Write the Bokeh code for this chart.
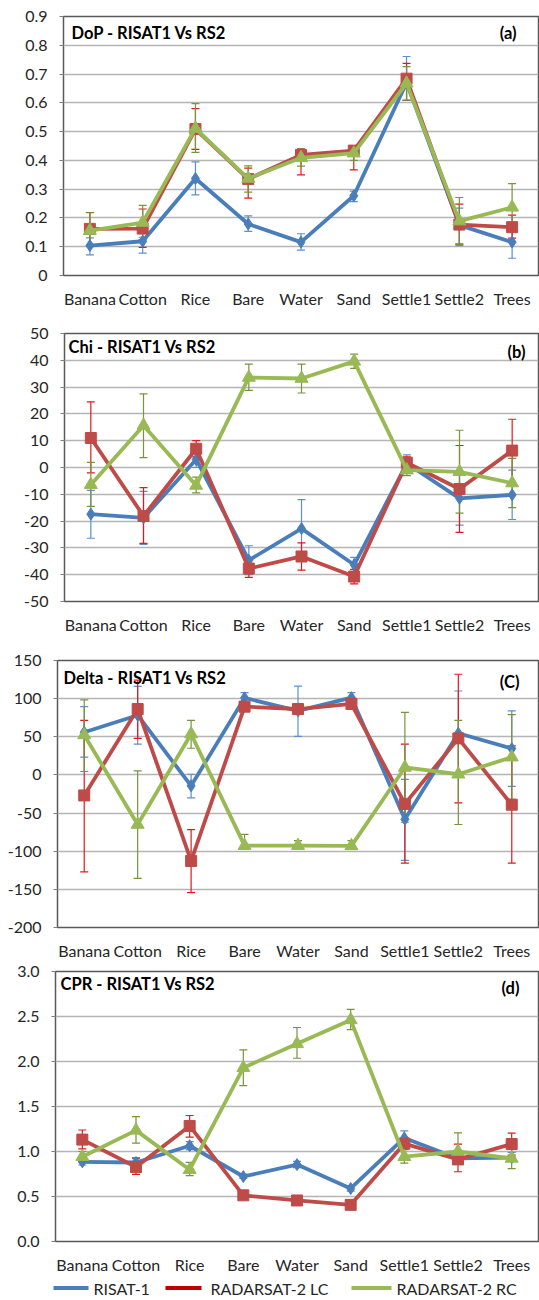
from bokeh.plotting import figure
from bokeh.models import (ColumnDataSource, Whisker, TeeHead, Label,
                          FactorRange, Range1d, FixedTicker, CustomJSTickFormatter)
from bokeh.core.properties import value
from bokeh.layouts import column
from bokeh.embed import file_html
from bokeh.resources import INLINE

categories = ["Banana", "Cotton", "Rice", "Bare", "Water", "Sand", "Settle1", "Settle2", "Trees"]
series_names = ["RISAT-1", "RADARSAT-2 LC", "RADARSAT-2 RC"]

# ---- (a) DoP ----
dop_risat    = [0.104, 0.119, 0.337, 0.179, 0.116, 0.277, 0.670, 0.175, 0.116]
dop_risat_lo = [0.072, 0.078, 0.280, 0.153, 0.088, 0.257, 0.609, 0.104, 0.060]
dop_risat_hi = [0.131, 0.133, 0.395, 0.207, 0.145, 0.293, 0.761, 0.234, 0.169]
dop_lc       = [0.162, 0.163, 0.509, 0.335, 0.419, 0.434, 0.684, 0.177, 0.168]
dop_lc_lo    = [0.105, 0.098, 0.438, 0.269, 0.350, 0.367, 0.609, 0.109, 0.130]
dop_lc_hi    = [0.219, 0.231, 0.580, 0.373, 0.440, 0.450, 0.737, 0.248, 0.210]
dop_rc       = [0.156, 0.184, 0.511, 0.337, 0.409, 0.425, 0.668, 0.189, 0.237]
dop_rc_lo    = [0.100, 0.125, 0.428, 0.290, 0.380, 0.400, 0.609, 0.109, 0.155]
dop_rc_hi    = [0.218, 0.244, 0.597, 0.381, 0.440, 0.445, 0.726, 0.271, 0.319]

# ---- (b) Chi ----
chi_risat    = [-17.4, -18.8, 3.0, -34.6, -22.8, -36.3, 1.5, -11.5, -10.2]
chi_risat_lo = [-26.4, -28.7, 0.0, -40.0, -33.6, -39.2, -1.5, -21.5, -19.4]
chi_risat_hi = [-8.5, -8.9, 6.0, -29.2, -12.0, -33.5, 4.7, -1.5, -1.0]
chi_lc       = [11.0, -18.1, 7.0, -37.7, -33.2, -40.7, 1.8, -8.0, 6.3]
chi_lc_lo    = [-2.0, -28.3, 4.0, -41.0, -38.3, -43.4, -0.5, -24.2, -5.7]
chi_lc_hi    = [24.5, -7.5, 10.0, -34.0, -28.1, -38.0, 4.0, 8.2, 18.0]
chi_rc       = [-6.4, 15.7, -6.7, 33.6, 33.2, 39.6, -1.0, -1.6, -5.8]
chi_rc_lo    = [-14.5, 3.7, -9.5, 28.8, 27.8, 37.0, -3.0, -17.0, -15.0]
chi_rc_hi    = [1.9, 27.5, -3.6, 38.6, 38.6, 42.3, 1.0, 13.9, 3.4]

# ---- (c) Delta ----
delta_risat    = [56.0, 78.3, -14.3, 101.0, 84.0, 101.3, -58.0, 54.6, 34.5]
delta_risat_lo = [23.3, 40.3, -30.0, 93.0, 50.6, 93.0, -112.0, 0.0, -15.0]
delta_risat_hi = [89.5, 116.0, 0.9, 108.0, 116.4, 108.0, -5.8, 110.0, 84.0]
delta_lc       = [-26.9, 86.4, -112.8, 89.5, 86.4, 93.0, -38.0, 47.9, -39.0]
delta_lc_lo    = [-127.0, 47.9, -154.4, 84.5, 81.4, 88.0, -115.5, -36.7, -115.5]
delta_lc_hi    = [71.6, 124.4, -71.6, 94.5, 91.4, 98.0, 40.3, 132.0, 38.0]
delta_rc       = [52.4, -65.0, 53.7, -92.7, -92.7, -93.0, 9.8, 0.9, 23.3]
delta_rc_lo    = [4.5, -135.6, 35.0, -97.0, -97.0, -97.0, -62.0, -65.0, -32.0]
delta_rc_hi    = [98.5, 5.4, 71.6, -78.0, -86.0, -86.0, 81.9, 71.6, 79.0]

# ---- (d) CPR ----
cpr_risat    = [0.885, 0.878, 1.064, 0.722, 0.855, 0.589, 1.151, 0.923, 0.932]
cpr_risat_lo = [0.850, 0.850, 1.020, 0.700, 0.820, 0.560, 1.080, 0.870, 0.890]
cpr_risat_hi = [0.920, 0.920, 1.110, 0.750, 0.890, 0.620, 1.230, 0.970, 0.990]
cpr_lc       = [1.132, 0.828, 1.284, 0.513, 0.456, 0.407, 1.087, 0.912, 1.083]
cpr_lc_lo    = [1.030, 0.745, 1.160, 0.490, 0.430, 0.380, 1.030, 0.775, 0.960]
cpr_lc_hi    = [1.239, 0.930, 1.400, 0.530, 0.480, 0.430, 1.140, 1.083, 1.204]
cpr_rc       = [0.942, 1.235, 0.798, 1.930, 2.196, 2.462, 0.942, 1.000, 0.923]
cpr_rc_lo    = [0.900, 1.094, 0.733, 1.733, 2.036, 2.355, 0.870, 0.940, 0.810]
cpr_rc_hi    = [1.000, 1.387, 0.880, 2.130, 2.378, 2.580, 1.020, 1.208, 1.030]

dop_ticks = [0, 0.1, 0.2, 0.3, 0.4, 0.5, 0.6, 0.7, 0.8, 0.9]
chi_ticks = [-50, -40, -30, -20, -10, 0, 10, 20, 30, 40, 50]
delta_ticks = [-200, -150, -100, -50, 0, 50, 100, 150]
cpr_ticks = [0.0, 0.5, 1.0, 1.5, 2.0, 2.5, 3.0]

LINE_COLORS = ["#4A7EBB", "#BE4B48", "#98B954"]
LEGEND_COLORS = ["#4A7EBB", "#C00000", "#98B954"]
ERR_COLORS = ["#5B8FD0", "#E0191C", "#77953A"]
MARKERS = ["diamond", "square", "triangle"]
MSIZES = [12, 11, 13]
FONT = "Lato"
TEXT = "#262626"
W = 539


def panel(title, tag, ymin, ymax, ticks, fmt_code, series, height, top, bottom, left,
          title_off, tag_off):
    frame_w = W - left - 1
    p = figure(x_range=FactorRange(factors=categories), y_range=Range1d(ymin, ymax),
               width=W, height=height, output_backend="svg", toolbar_location=None,
               min_border_left=left, min_border_right=1, min_border_top=top,
               min_border_bottom=bottom)
    p.background_fill_color = "white"
    p.border_fill_color = "white"
    p.outline_line_color = "#595959"
    p.outline_line_width = 1.5

    tk = FixedTicker(ticks=ticks)
    p.yaxis.ticker = tk
    p.ygrid.ticker = tk
    p.yaxis.formatter = CustomJSTickFormatter(code=fmt_code)
    p.yaxis.axis_line_color = None
    p.yaxis.major_tick_line_color = "#7F7F7F"
    p.yaxis.major_tick_out = 4
    p.yaxis.major_tick_in = 0
    p.yaxis.minor_tick_line_color = None
    p.yaxis.major_label_standoff = 12
    p.yaxis.major_label_text_font = FONT
    p.yaxis.major_label_text_font_size = "16px"
    p.yaxis.major_label_text_color = TEXT

    p.xaxis.axis_line_color = None
    p.xaxis.major_tick_line_color = None
    p.xaxis.major_tick_out = 0
    p.xaxis.major_label_standoff = 13
    p.xaxis.major_label_text_font = FONT
    p.xaxis.major_label_text_font_size = "16px"
    p.xaxis.major_label_text_color = TEXT

    p.xgrid.grid_line_color = None
    p.ygrid.grid_line_color = "#B5B5B5"
    p.ygrid.grid_line_width = 1.5

    for i, (vals, lo, hi) in enumerate(series):
        src = ColumnDataSource(dict(cat=categories, y=vals, lo=lo, hi=hi))
        p.line("cat", "y", source=src, line_color=LINE_COLORS[i], line_width=3.8)
        p.scatter("cat", "y", source=src, marker=MARKERS[i], size=MSIZES[i],
                  fill_color=LINE_COLORS[i], line_color=LINE_COLORS[i])
        wk = Whisker(base="cat", lower="lo", upper="hi", source=src,
                     line_color=ERR_COLORS[i], line_width=1.2,
                     upper_head=TeeHead(size=8, line_color=ERR_COLORS[i], line_width=1.2),
                     lower_head=TeeHead(size=8, line_color=ERR_COLORS[i], line_width=1.2))
        p.add_layout(wk)

    frame_h = height - top - bottom
    cat_w = frame_w / len(categories)
    span = ymax - ymin
    p.add_layout(Label(x=title_off[0] / cat_w, y=ymax - title_off[1] / frame_h * span,
                       text=title, text_font=FONT, text_font_size="16.5px",
                       text_font_style="bold", text_baseline="middle", text_color="black"))
    p.add_layout(Label(x=len(categories) - tag_off[0] / cat_w,
                       y=ymax - tag_off[1] / frame_h * span,
                       text=tag, text_font=FONT, text_font_size="16.5px",
                       text_font_style="bold", text_baseline="middle", text_align="right",
                       text_color="black"))
    return p


fmt1 = "return tick == 0 ? '0' : tick.toFixed(1);"
fmt0 = "return tick.toFixed(0);"
fmtd = "return tick.toFixed(1);"

pa = panel("DoP - RISAT1 Vs RS2", "(a)", 0, 0.9, dop_ticks, fmt1,
           [(dop_risat, dop_risat_lo, dop_risat_hi), (dop_lc, dop_lc_lo, dop_lc_hi),
            (dop_rc, dop_rc_lo, dop_rc_hi)],
           height=310, top=16, bottom=32, left=63, title_off=(8, 17), tag_off=(22, 17))
pb = panel("Chi - RISAT1 Vs RS2", "(b)", -50, 50, chi_ticks, fmt0,
           [(chi_risat, chi_risat_lo, chi_risat_hi), (chi_lc, chi_lc_lo, chi_lc_hi),
            (chi_rc, chi_rc_lo, chi_rc_hi)],
           height=326, top=23, bottom=32, left=64, title_off=(4, 14), tag_off=(13, 19))
pc = panel("Delta - RISAT1 Vs RS2", "(C)", -200, 150, delta_ticks, fmt0,
           [(delta_risat, delta_risat_lo, delta_risat_hi), (delta_lc, delta_lc_lo, delta_lc_hi),
            (delta_rc, delta_rc_lo, delta_rc_hi)],
           height=326, top=24, bottom=32, left=57, title_off=(6, 18), tag_off=(19, 22))
pd_ = panel("CPR - RISAT1 Vs RS2", "(d)", 0, 3.0, cpr_ticks, fmtd,
            [(cpr_risat, cpr_risat_lo, cpr_risat_hi), (cpr_lc, cpr_lc_lo, cpr_lc_hi),
             (cpr_rc, cpr_rc_lo, cpr_rc_hi)],
            height=314, top=9, bottom=32, left=55, title_off=(5, 13), tag_off=(19, 17))

# ---- legend strip (pixel coordinates) ----
LEG_H = 23
leg = figure(width=W, height=LEG_H, output_backend="svg", toolbar_location=None,
             x_range=Range1d(0, W), y_range=Range1d(0, LEG_H),
             x_axis_location=None, y_axis_location=None,
             min_border_left=0, min_border_right=0, min_border_top=0, min_border_bottom=0)
leg.grid.visible = False
leg.outline_line_color = None
leg.background_fill_color = "white"
leg.border_fill_color = "white"
leg_x0 = [53, 165, 351]
leg_x1 = [88, 201, 391]
leg_tx = [93, 210, 396]
yc = LEG_H / 2
leg.segment(x0=leg_x0, y0=[yc] * 3, x1=leg_x1, y1=[yc] * 3,
            line_color=LEGEND_COLORS, line_width=4)
leg.text(x=leg_tx, y=[yc] * 3, text=series_names, text_font=value(FONT),
         text_font_size="16px", text_baseline="middle", text_color=TEXT)

# wrap each plot so that frames are not aligned across the column
layout = column(column(pa), column(pb), column(pc), column(pd_), column(leg), spacing=0)
open("out.html", "w").write(file_html(layout, INLINE))
